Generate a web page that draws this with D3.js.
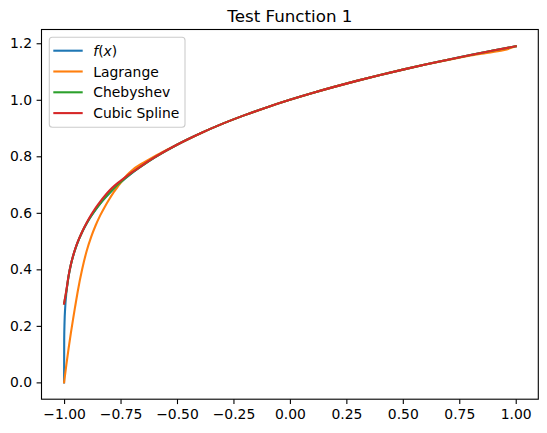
<!DOCTYPE html>
<html>
<head>
<meta charset="utf-8">
<script src="https://cdn.jsdelivr.net/npm/d3@7"></script>
<style>
  body { margin: 0; background: #fff; }
  svg { display: block; font-family: "DejaVu Sans", sans-serif; }
</style>
</head>
<body>
<div id="chart"></div>
<script>
// values
const fX = [-1, -0.9995, -0.998, -0.995, -0.99, -0.98, -0.97, -0.96, -0.95, -0.94, -0.92, -0.90, -0.88, -0.86, -0.84, -0.82, -0.80, -0.775, -0.75, -0.70, -0.65, -0.60, -0.55, -0.50, -0.45, -0.40, -0.35, -0.30, -0.25, -0.20, -0.15, -0.10, -0.05, 0, 0.05, 0.10, 0.15, 0.20, 0.25, 0.30, 0.35, 0.40, 0.45, 0.50, 0.55, 0.60, 0.65, 0.70, 0.75, 0.80, 0.85, 0.90, 0.95, 1.00];
const fY = [0, 0.1495, 0.2115, 0.2659, 0.3162, 0.3761, 0.4162, 0.4472, 0.4729, 0.4949, 0.5318, 0.5623, 0.5886, 0.6117, 0.6325, 0.6514, 0.6687, 0.6887, 0.7071, 0.7401, 0.7692, 0.7953, 0.8190, 0.8409, 0.8612, 0.8801, 0.8979, 0.9147, 0.9306, 0.9457, 0.9602, 0.9740, 0.9873, 1.0, 1.0123, 1.0241, 1.0356, 1.0466, 1.0574, 1.0678, 1.0779, 1.0878, 1.0973, 1.1067, 1.1158, 1.1247, 1.1334, 1.1419, 1.1502, 1.1583, 1.1662, 1.1741, 1.1817, 1.1892];

const lagX = [-1, -0.99, -0.98, -0.97, -0.96, -0.95, -0.94, -0.92, -0.90, -0.88, -0.86, -0.84, -0.82, -0.80, -0.78, -0.76, -0.74, -0.72, -0.70, -0.65, -0.60, -0.55, -0.50, -0.40, -0.30, -0.20, -0.10, 0, 0.10, 0.20, 0.30, 0.40, 0.50, 0.60, 0.70, 0.75, 0.80, 0.85, 0.90, 0.95, 1.00];
const lagY = [0, 0.062, 0.12, 0.174, 0.225, 0.273, 0.32, 0.40, 0.465, 0.515, 0.556, 0.591, 0.621, 0.648, 0.673, 0.695, 0.716, 0.735, 0.750, 0.777, 0.800, 0.821, 0.841, 0.880, 0.9147, 0.9457, 0.974, 1.0, 1.0241, 1.0466, 1.0678, 1.0878, 1.1067, 1.1245, 1.1412, 1.1490, 1.1565, 1.1630, 1.1690, 1.1760, 1.1892];

const chebX = [-1, -0.995, -0.99, -0.98, -0.97, -0.96, -0.95, -0.94, -0.92, -0.90, -0.88, -0.86, -0.84, -0.82, -0.80, -0.775, -0.75, -0.70, -0.65, -0.60, -0.50, -0.40, -0.30, -0.20, -0.10, 0, 0.10, 0.20, 0.30, 0.40, 0.50, 0.60, 0.70, 0.80, 0.90, 1.00];
const chebY = [0.279, 0.300, 0.322, 0.376, 0.416, 0.447, 0.473, 0.495, 0.532, 0.563, 0.589, 0.612, 0.633, 0.652, 0.670, 0.690, 0.708, 0.741, 0.769, 0.795, 0.841, 0.880, 0.9147, 0.9457, 0.974, 1.0, 1.0241, 1.0466, 1.0678, 1.0878, 1.1067, 1.1247, 1.1419, 1.1583, 1.1741, 1.1892];

const splX = [-1, -0.995, -0.99, -0.98, -0.97, -0.96, -0.95, -0.94, -0.92, -0.90, -0.88, -0.86, -0.84, -0.82, -0.80, -0.775, -0.75, -0.70, -0.65, -0.60, -0.50, -0.40, -0.30, -0.20, -0.10, 0, 0.10, 0.20, 0.30, 0.40, 0.50, 0.60, 0.70, 0.80, 0.90, 1.00];
const splY = [0.279, 0.302, 0.325, 0.378, 0.417, 0.448, 0.474, 0.496, 0.533, 0.565, 0.593, 0.618, 0.640, 0.660, 0.678, 0.697, 0.713, 0.743, 0.770, 0.796, 0.841, 0.880, 0.9147, 0.9457, 0.974, 1.0, 1.0241, 1.0466, 1.0678, 1.0878, 1.1067, 1.1247, 1.1419, 1.1583, 1.1741, 1.1892];

const seriesNames = ['f(x)', 'Lagrange', 'Chebyshev', 'Cubic Spline'];
const seriesColors = ['#1f77b4', '#ff7f0e', '#2ca02c', '#d62728'];
const xTicks = [-1, -0.75, -0.5, -0.25, 0, 0.25, 0.5, 0.75, 1];
const yTicks = [0, 0.2, 0.4, 0.6, 0.8, 1.0, 1.2];
const chartTitle = 'Test Function 1';

const W = 547, H = 433;
const m = { left: 41.5, right: 538.3, top: 29.5, bottom: 399.2 };

const svg = d3.select('#chart').append('svg').attr('width', W).attr('height', H);

const x = d3.scaleLinear().domain([-1.1, 1.1]).range([m.left, m.right]);
const y = d3.scaleLinear().domain([-0.0595, 1.2487]).range([m.bottom, m.top]);

svg.append('defs').append('clipPath').attr('id', 'clip')
  .append('rect').attr('x', m.left).attr('y', m.top)
  .attr('width', m.right - m.left).attr('height', m.bottom - m.top);

const fmt = (v, d) => v.toFixed(d).replace('-', '\u2212');

// axes
const xAxis = svg.append('g').attr('transform', `translate(0,${m.bottom})`)
  .call(d3.axisBottom(x).tickValues(xTicks).tickSize(4.9).tickPadding(4.6).tickFormat(d => fmt(d, 2)));
const yAxis = svg.append('g').attr('transform', `translate(${m.left},0)`)
  .call(d3.axisLeft(y).tickValues(yTicks).tickSize(4.9).tickPadding(4.6).tickFormat(d => fmt(d, 1)));

[xAxis, yAxis].forEach(a => {
  a.select('.domain').remove();
  a.selectAll('.tick line').attr('stroke', '#000').attr('stroke-width', 1.1);
  a.selectAll('.tick text').attr('fill', '#000').attr('font-size', '13.9px')
    .attr('font-family', '"DejaVu Sans", sans-serif');
});

const lineGen = d3.line().x(d => x(d[0])).y(d => y(d[1])).curve(d3.curveMonotoneX);
const allSeries = [
  d3.zip(fX, fY), d3.zip(lagX, lagY), d3.zip(chebX, chebY), d3.zip(splX, splY)
];

const plot = svg.append('g').attr('clip-path', 'url(#clip)');
plot.selectAll('path')
  .data(allSeries).join('path')
  .attr('d', lineGen)
  .attr('fill', 'none')
  .attr('stroke', (d, i) => seriesColors[i])
  .attr('stroke-width', 2.1)
  .attr('stroke-linejoin', 'round')
  .attr('stroke-linecap', 'square');

// spines
svg.append('rect')
  .attr('x', m.left).attr('y', m.top).attr('width', m.right - m.left).attr('height', m.bottom - m.top)
  .attr('fill', 'none').attr('stroke', '#000').attr('stroke-width', 1.1);

// title
svg.append('text')
  .attr('x', (m.left + m.right) / 2).attr('y', 22)
  .attr('text-anchor', 'middle').attr('font-size', '16.7px').attr('fill', '#000')
  .text(chartTitle);

// legend
const leg = svg.append('g');
leg.append('rect')
  .attr('x', 49.3).attr('y', 37.3).attr('width', 135.7).attr('height', 90)
  .attr('rx', 3).attr('fill', '#fff').attr('fill-opacity', 0.8)
  .attr('stroke', '#cccccc').attr('stroke-width', 1.1);

const rowY = i => 50.7 + i * 20.8;
leg.selectAll('line')
  .data(seriesNames).join('line')
  .attr('x1', 53.3).attr('x2', 82.7)
  .attr('y1', (d, i) => rowY(i)).attr('y2', (d, i) => rowY(i))
  .attr('stroke', (d, i) => seriesColors[i]).attr('stroke-width', 2.1);

leg.selectAll('text')
  .data(seriesNames).join('text')
  .attr('x', 93.3).attr('y', (d, i) => rowY(i) + 5)
  .attr('font-size', '13.9px').attr('fill', '#000')
  .each(function (d, i) {
    const t = d3.select(this);
    if (i === 0) {
      t.append('tspan').attr('font-style', 'italic').text('f');
      t.append('tspan').text('(');
      t.append('tspan').attr('font-style', 'italic').text('x');
      t.append('tspan').text(')');
    } else {
      t.text(d);
    }
  });
</script>
</body>
</html>
